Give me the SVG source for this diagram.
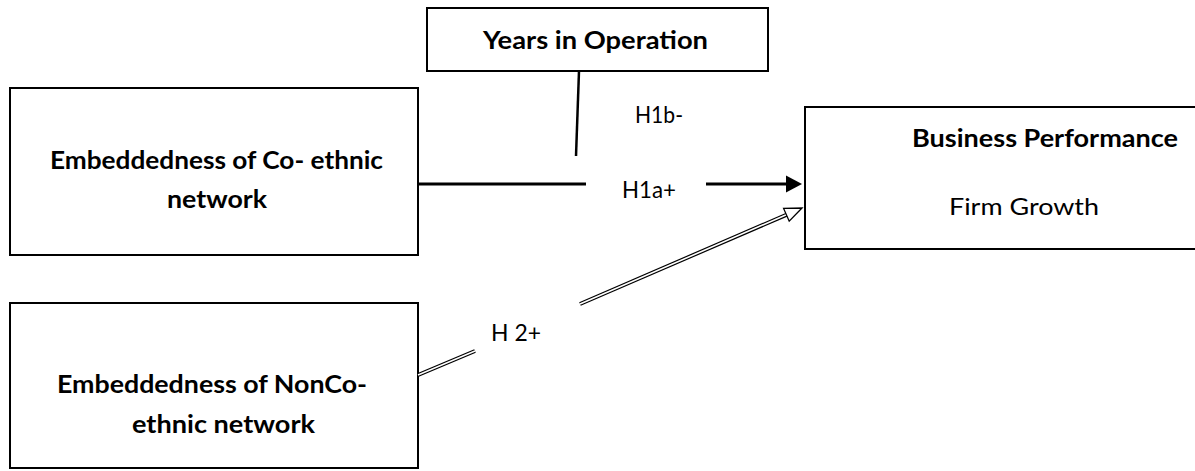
<svg xmlns="http://www.w3.org/2000/svg" width="1195" height="471" viewBox="0 0 1195 471">
<style>
.box{fill:#fff;stroke:#000;stroke-width:2}
.t{font-family:Lato,"Open Sans","Liberation Sans",sans-serif;fill:#000}
.b{font-weight:bold;font-size:24px}
.r{font-size:23px}
.ln{fill:none;stroke:#000;stroke-width:3}
</style>
<rect width="1195" height="471" fill="#fff"/>
<g id="node-coethnic">
<rect class="box" x="10" y="88" width="408" height="167"/>
<text class="t b" x="50" y="169" textLength="333" lengthAdjust="spacingAndGlyphs">Embeddedness of Co- ethnic</text>
<text class="t b" x="167" y="208" textLength="100" lengthAdjust="spacingAndGlyphs">network</text>
</g>
<g id="node-noncoethnic">
<rect class="box" x="10" y="303" width="408" height="165"/>
<text class="t b" x="57" y="393" textLength="310" lengthAdjust="spacingAndGlyphs">Embeddedness of NonCo-</text>
<text class="t b" x="132" y="433" textLength="183" lengthAdjust="spacingAndGlyphs">ethnic network</text>
</g>
<g id="node-years">
<rect class="box" x="427" y="8" width="341" height="63"/>
<text class="t b" x="483" y="49" textLength="225" lengthAdjust="spacingAndGlyphs">Years in Operation</text>
</g>
<g id="node-performance">
<rect class="box" x="805" y="107" width="400" height="142"/>
<text class="t b" x="912" y="147" textLength="266" lengthAdjust="spacingAndGlyphs">Business Performance</text>
<text class="t r" x="949" y="215" textLength="150" lengthAdjust="spacingAndGlyphs">Firm Growth</text>
</g>
<g id="connectors">
<line x1="579" y1="71" x2="576" y2="156" stroke="#000" stroke-width="2.5"/>
<line class="ln" x1="418" y1="184" x2="586" y2="184"/>
<line class="ln" x1="706" y1="184" x2="788" y2="184"/>
<polygon points="802,184 786,175.5 786,192.5" fill="#000"/>
<g stroke-linecap="butt">
<line x1="418" y1="375" x2="475" y2="351" stroke="#000" stroke-width="4"/>
<line x1="418" y1="375" x2="475" y2="351" stroke="#fff" stroke-width="1.6"/>
<line x1="580" y1="304" x2="786.4" y2="214.8" stroke="#000" stroke-width="4"/>
<line x1="580" y1="304" x2="786.4" y2="214.8" stroke="#fff" stroke-width="1.6"/>
</g>
<polygon points="802,208 789.2,221.2 783.6,208.4" fill="#fff" stroke="#000" stroke-width="1.3"/>
<text class="t r" x="635" y="123" textLength="48" lengthAdjust="spacingAndGlyphs">H1b-</text>
<text class="t r" x="622" y="198" textLength="54" lengthAdjust="spacingAndGlyphs">H1a+</text>
<text class="t r" x="491" y="341" textLength="50" lengthAdjust="spacingAndGlyphs">H 2+</text>
</g>
</svg>
